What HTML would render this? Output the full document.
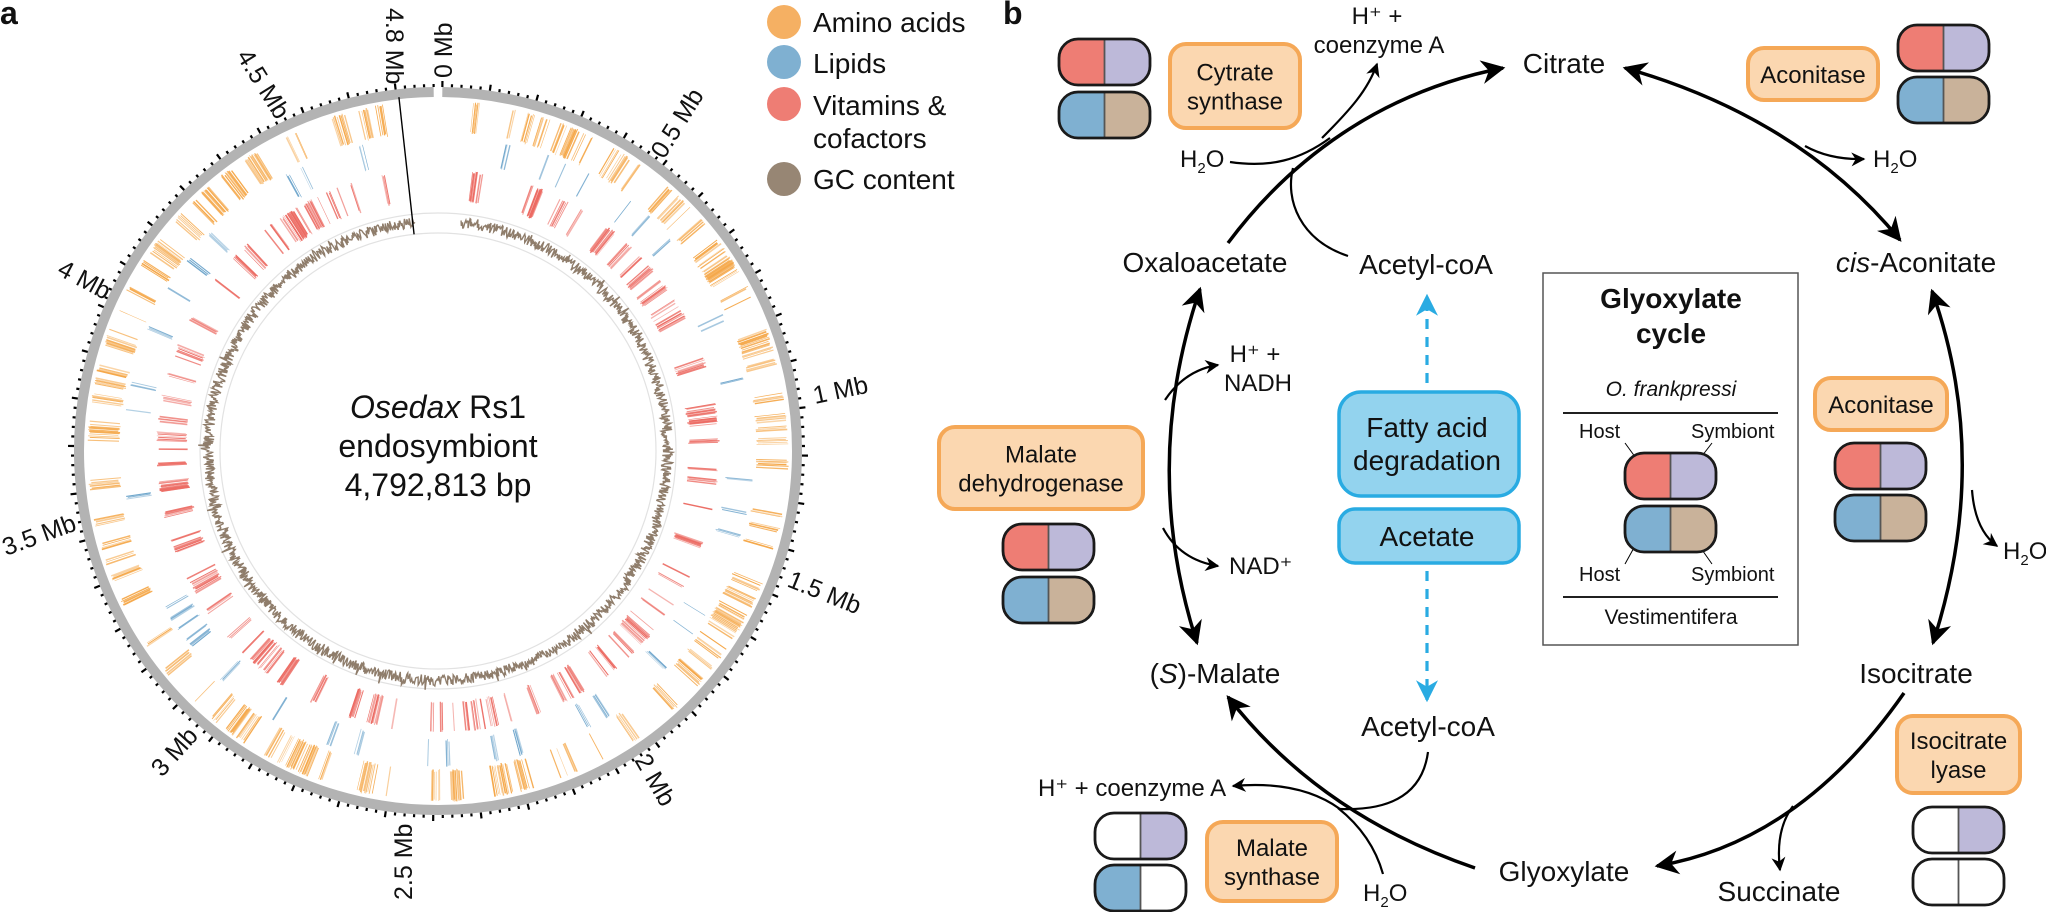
<!DOCTYPE html>
<html><head><meta charset="utf-8"><style>
body{margin:0;background:#fff;}
svg text{font-family:"Liberation Sans",Arial,sans-serif;fill:#111;}
</style></head><body>
<svg id="s" width="2046" height="912" viewBox="0 0 2046 912" xmlns="http://www.w3.org/2000/svg">
<defs>
<marker id="ah" viewBox="0 0 10 10" refX="9" refY="5" markerWidth="16" markerHeight="14" orient="auto-start-reverse" markerUnits="userSpaceOnUse"><path d="M0,0L10,5L0,10L3,5z" fill="#000"/></marker>
<marker id="big" viewBox="0 0 10 10" refX="9" refY="5" markerWidth="28" markerHeight="24" orient="auto-start-reverse" markerUnits="userSpaceOnUse"><path d="M0,0L10,5L0,10L3,5z" fill="#000"/></marker>
<marker id="bl" viewBox="0 0 10 10" refX="9" refY="5" markerWidth="24" markerHeight="22" orient="auto" markerUnits="userSpaceOnUse"><path d="M0,0L10,5L0,10L3,5z" fill="#29abe2"/></marker>
</defs>
<text x="0" y="24" font-size="32" font-weight="bold">a</text>
<text x="1003" y="24" font-size="32" font-weight="bold">b</text>
<g id="genome"></g>
<circle cx="784" cy="22" r="17" fill="#f5b063"/><text x="813" y="32" font-size="28">Amino acids</text>
<circle cx="784" cy="62" r="17" fill="#7fb0d1"/><text x="813" y="73" font-size="28">Lipids</text>
<circle cx="784" cy="104" r="17" fill="#ee7d74"/><text x="813" y="115" font-size="28">Vitamins &amp;</text><text x="813" y="148" font-size="28">cofactors</text>
<circle cx="784" cy="179" r="17" fill="#978674"/><text x="813" y="189" font-size="28">GC content</text>
<text x="438" y="418" font-size="32" text-anchor="middle"><tspan font-style="italic">Osedax</tspan> Rs1</text>
<text x="438" y="457" font-size="32" text-anchor="middle">endosymbiont</text>
<text x="438" y="496" font-size="32" text-anchor="middle">4,792,813 bp</text>
<g font-size="25">
<text transform="translate(386,8) rotate(90)">4.8 Mb</text>
<text transform="translate(452,78) rotate(-90)">0 Mb</text>
<text transform="translate(236,56) rotate(58)">4.5 Mb</text>
<text transform="translate(664,160) rotate(-58)">0.5 Mb</text>
<text transform="translate(56,274) rotate(28)">4 Mb</text>
<text transform="translate(815,404) rotate(-12)">1 Mb</text>
<text transform="translate(6,556) rotate(-20)">3.5 Mb</text>
<text transform="translate(786,586) rotate(22)">1.5 Mb</text>
<text transform="translate(162,778) rotate(-48)">3 Mb</text>
<text transform="translate(634,760) rotate(60)">2 Mb</text>
<text transform="translate(412,900) rotate(-90)">2.5 Mb</text>
</g>
<g font-size="28">
<text x="1564" y="73" text-anchor="middle">Citrate</text>
<text x="1916" y="272" text-anchor="middle"><tspan font-style="italic">cis</tspan>-Aconitate</text>
<text x="1916" y="683" text-anchor="middle">Isocitrate</text>
<text x="1779" y="901" text-anchor="middle">Succinate</text>
<text x="1564" y="881" text-anchor="middle">Glyoxylate</text>
<text x="1215" y="683" text-anchor="middle">(<tspan font-style="italic">S</tspan>)-Malate</text>
<text x="1205" y="272" text-anchor="middle">Oxaloacetate</text>
<text x="1426" y="274" text-anchor="middle">Acetyl-coA</text>
<text x="1428" y="736" text-anchor="middle">Acetyl-coA</text>
</g>
<g font-size="24">
<text x="1377" y="24" text-anchor="middle">H⁺ +</text><text x="1379" y="53" text-anchor="middle">coenzyme A</text>
<text x="1180" y="167">H<tspan font-size="15" dy="6">2</tspan><tspan dy="-6">O</tspan></text>
<text x="1873" y="167">H<tspan font-size="15" dy="6">2</tspan><tspan dy="-6">O</tspan></text>
<text x="2003" y="559">H<tspan font-size="15" dy="6">2</tspan><tspan dy="-6">O</tspan></text>
<text x="1363" y="901">H<tspan font-size="15" dy="6">2</tspan><tspan dy="-6">O</tspan></text>
<text x="1255" y="362" text-anchor="middle">H⁺ +</text><text x="1258" y="391" text-anchor="middle">NADH</text>
<text x="1229" y="574">NAD⁺</text>
<text x="1038" y="796">H⁺ + coenzyme A</text>
</g>
<g fill="none" stroke="#000" stroke-width="3.5">
<path d="M1228,243 C1290,160 1380,92 1503,68" marker-end="url(#big)"/>
<path d="M1625,68 Q1800,118 1900,240" marker-start="url(#big)" marker-end="url(#big)"/>
<path d="M1932,291 Q1992,460 1933,643" marker-start="url(#big)" marker-end="url(#big)"/>
<path d="M1904,693 Q1800,842 1657,866" marker-end="url(#big)"/>
<path d="M1475,868 Q1320,815 1228,697" marker-end="url(#big)"/>
<path d="M1200,289 Q1140,466 1197,643" marker-start="url(#big)" marker-end="url(#big)"/>
</g>
<g fill="none" stroke="#000" stroke-width="2.2">
<path d="M1230,162 C1270,168 1300,160 1330,138"/>
<path d="M1322,138 C1350,110 1368,90 1377,64" marker-end="url(#ah)"/>
<path d="M1348,256 C1300,240 1285,200 1293,168"/>
<path d="M1805,146 Q1830,160 1864,159" marker-end="url(#ah)"/>
<path d="M1972,490 Q1975,530 1997,546" marker-end="url(#ah)"/>
<path d="M1793,806 Q1775,830 1780,870" marker-end="url(#ah)"/>
<path d="M1340,809 Q1300,780 1233,786" marker-end="url(#ah)"/>
<path d="M1428,752 Q1420,812 1340,809"/>
<path d="M1338,808 Q1372,835 1383,874"/>
<path d="M1165,400 Q1185,370 1218,365" marker-end="url(#ah)"/>
<path d="M1163,528 Q1180,560 1218,566" marker-end="url(#ah)"/>
</g>
<g stroke="#29abe2" stroke-width="3.2" stroke-dasharray="10,8" fill="none">
<line x1="1427" y1="383" x2="1427" y2="296" marker-end="url(#bl)"/>
<line x1="1427" y1="571" x2="1427" y2="700" marker-end="url(#bl)"/>
</g>
<rect x="1339" y="392" width="180" height="104" rx="22" fill="#93d3ee" stroke="#29abe2" stroke-width="3.5"/>
<text x="1427" y="437" font-size="28" text-anchor="middle">Fatty acid</text><text x="1427" y="470" font-size="28" text-anchor="middle">degradation</text>
<rect x="1339" y="509" width="180" height="54" rx="16" fill="#93d3ee" stroke="#29abe2" stroke-width="3.5"/>
<text x="1427" y="546" font-size="28" text-anchor="middle">Acetate</text>
<rect x="1543" y="273" width="255" height="372" fill="#fff" stroke="#555" stroke-width="1.5"/>
<text x="1671" y="308" font-size="28" font-weight="bold" text-anchor="middle">Glyoxylate</text>
<text x="1671" y="343" font-size="28" font-weight="bold" text-anchor="middle">cycle</text>
<text x="1671" y="396" font-size="21" font-style="italic" text-anchor="middle">O. frankpressi</text>
<line x1="1563" y1="413" x2="1778" y2="413" stroke="#000" stroke-width="1.8"/>
<text x="1579" y="438" font-size="20">Host</text><text x="1691" y="438" font-size="20">Symbiont</text>
<text x="1579" y="581" font-size="20">Host</text><text x="1691" y="581" font-size="20">Symbiont</text>
<line x1="1625" y1="443" x2="1641" y2="465" stroke="#000"/><line x1="1712" y1="443" x2="1695" y2="465" stroke="#000"/>
<line x1="1625" y1="564" x2="1641" y2="535" stroke="#000"/><line x1="1712" y1="564" x2="1693" y2="537" stroke="#000"/>
<line x1="1563" y1="597" x2="1778" y2="597" stroke="#000" stroke-width="1.8"/>
<text x="1671" y="624" font-size="21" text-anchor="middle">Vestimentifera</text>
<g id="pills"></g>
<g id="enz" font-size="24"></g>
</svg>
<script>
var NS="http://www.w3.org/2000/svg";
function el(p,t,a){var e=document.createElementNS(NS,t);for(var k in a)e.setAttribute(k,a[k]);p.appendChild(e);return e;}
var g=document.getElementById("genome");
var cx=438,cy=451;
var seed=11;function rnd(){seed=(seed*16807)%2147483647;return seed/2147483647;}
function pt(r,a){return [cx+r*Math.sin(a),cy-r*Math.cos(a)];}
var R=359;
function arc(r,a0,a1){var p0=pt(r,a0),p1=pt(r,a1);return "M"+p0[0]+","+p0[1]+" A"+r+","+r+" 0 1,1 "+p1[0]+","+p1[1];}
el(g,"path",{d:arc(R,0.012,2*Math.PI-0.012),fill:"none",stroke:"#b3b3b3","stroke-width":10});
for(var i=0;i<240;i++){var a=0.012+i*(2*Math.PI-0.024)/239;var p0=pt(R+5,a),p1=pt(R+(i%5==0?11:8),a);el(g,"line",{x1:p0[0],y1:p0[1],x2:p1[0],y2:p1[1],stroke:"#000","stroke-width":2.2});}
function track(r0,r1,col,nc,per){for(var c=0;c<nc;c++){var a0=0.1+rnd()*(2*Math.PI-0.28);var n=1+Math.floor(rnd()*per);for(var j=0;j<n;j++){var a=a0+j*0.005+rnd()*0.004;var w=0.5+rnd()*1.2;var p0=pt(r0+rnd()*3,a),p1=pt(r1-rnd()*3,a);el(g,"line",{x1:p0[0],y1:p0[1],x2:p1[0],y2:p1[1],stroke:col,"stroke-width":w,opacity:0.45+rnd()*0.55});}}}
track(318,351,"#f5a84a",140,6);track(288,316,"#6fa6cc",45,3);track(250,282,"#ec6b63",125,5);
el(g,"circle",{cx:cx,cy:cy,r:218,fill:"none",stroke:"#e2e2e2","stroke-width":1.2});
el(g,"circle",{cx:cx,cy:cy,r:238,fill:"none",stroke:"#e2e2e2","stroke-width":1.2});
var d="";for(var i=0;i<=1800;i++){var a=0.1+i*(2*Math.PI-0.2)/1800;var r=224+rnd()*11+(rnd()<0.04?5:0);var p=pt(r,a);d+=(i?"L":"M")+p[0].toFixed(1)+","+p[1].toFixed(1);}
el(g,"path",{d:d,fill:"none",stroke:"#8f7d6b","stroke-width":1.4});
var p0=pt(218,-0.11),p1=pt(356,-0.11);el(g,"line",{x1:p0[0],y1:p0[1],x2:p1[0],y2:p1[1],stroke:"#000","stroke-width":1.4});
var P=document.getElementById("pills");
var C={r:"#ee7d74",l:"#bdb9d9",b:"#7fb0d1",t:"#c9b29a",w:"#fff"};
var pid=0;
function pill(x,y,w,h,c1,c2){var q=el(P,"g",{});var id="c"+(pid++);var cp=el(q,"clipPath",{id:id});el(cp,"rect",{x:x,y:y,width:w,height:h,rx:19});
el(q,"rect",{x:x,y:y,width:w/2,height:h,fill:C[c1],"clip-path":"url(#"+id+")"});el(q,"rect",{x:x+w/2,y:y,width:w/2,height:h,fill:C[c2],"clip-path":"url(#"+id+")"});
el(q,"line",{x1:x+w/2,y1:y,x2:x+w/2,y2:y+h,stroke:"#555","stroke-width":1.8});el(q,"rect",{x:x,y:y,width:w,height:h,rx:19,fill:"none",stroke:"#1a1a1a","stroke-width":2.8});}
function pair(x,y,a,b,c,d,gap){pill(x,y,91,46,a,b);pill(x,y+(gap||53),91,46,c,d);}
pair(1059,39,"r","l","b","t");pair(1898,25,"r","l","b","t",52);pair(1835,443,"r","l","b","t",52);
pair(1003,524,"r","l","b","t");pair(1625,453,"r","l","b","t");
pair(1913,807,"w","l","w","w",52);pair(1095,813,"w","l","b","w",52);
var E=document.getElementById("enz");
function enz(x,y,w,h,lines){el(E,"rect",{x:x,y:y,width:w,height:h,rx:16,fill:"#fbd7b0",stroke:"#f5a857","stroke-width":4});
var n=lines.length;lines.forEach(function(t,i){var tx=el(E,"text",{x:x+w/2,y:y+h/2+9+(i-(n-1)/2)*29,"text-anchor":"middle"});tx.textContent=t;});}
enz(1170,44,130,84,["Cytrate","synthase"]);enz(1748,48,130,52,["Aconitase"]);enz(1815,378,132,52,["Aconitase"]);
enz(939,427,204,82,["Malate","dehydrogenase"]);enz(1897,716,123,77,["Isocitrate","lyase"]);enz(1207,822,130,79,["Malate","synthase"]);
</script>
</body></html>
